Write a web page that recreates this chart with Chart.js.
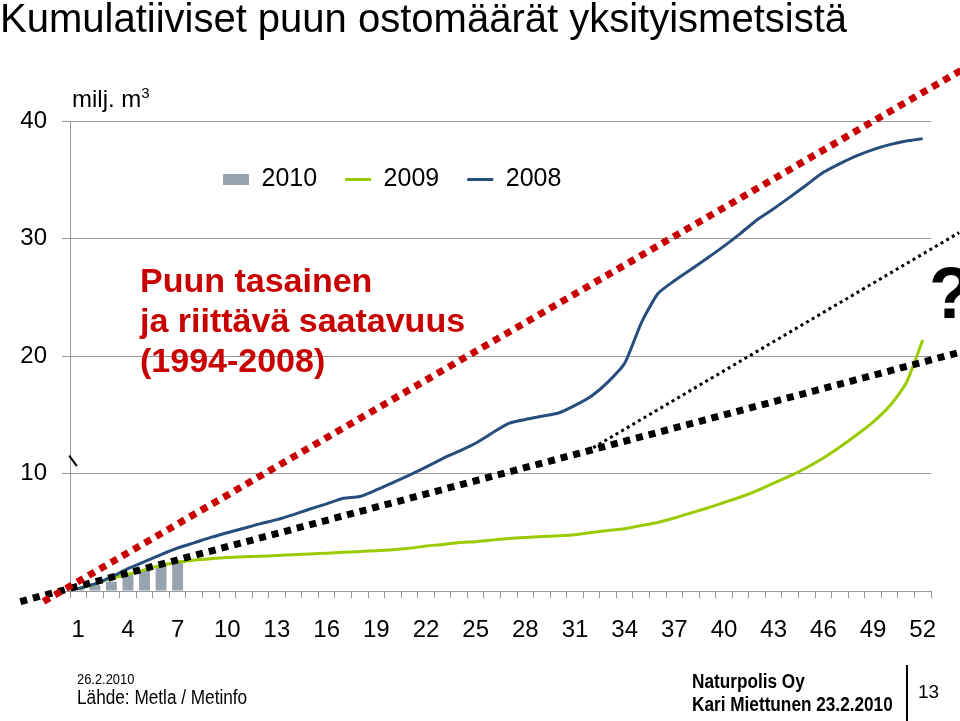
<!DOCTYPE html>
<html lang="fi">
<head>
<meta charset="utf-8">
<title>Kumulatiiviset puun ostomäärät yksityismetsistä</title>
<script src="https://cdn.jsdelivr.net/npm/chart.js@4/dist/chart.umd.min.js"></script>
<style>
  html, body { margin: 0; padding: 0; background: #fff; }
  #wrap { position: relative; width: 960px; height: 721px; overflow: hidden; font-family: "Liberation Sans", Arial, sans-serif; color: #000; }
  #wrap canvas { position: absolute; left: 0; top: 0; }
  .txt { position: absolute; white-space: nowrap; line-height: 1; }
  .narrow { font-family: "Liberation Sans Narrow", "Arial Narrow", "Liberation Sans", sans-serif; transform: scaleX(0.86); transform-origin: 0 0; }
  #title { left: 0; top: -2px; font-size: 40px; }
  #unit { left: 72px; top: 87px; font-size: 24px; }
  #unit sup { font-size: 15px; vertical-align: 9px; line-height: 0; }
  #note { left: 140px; top: 260px; font-size: 34px; font-weight: bold; color: #c80000; line-height: 40px; }
  #ask { left: 929px; top: 257px; font-size: 72px; font-weight: bold; }
  #mark { left: 70px; top: 455px; width: 13px; height: 1.5px; background: #000; transform: rotate(54deg); transform-origin: 0 0; }
  #date { left: 77px; top: 671px; font-size: 15px; }
  #source { left: 77px; top: 687px; font-size: 20px; }
  #org { left: 692px; top: 671px; font-size: 20px; font-weight: bold; }
  #author { left: 692px; top: 694px; font-size: 20px; font-weight: bold; }
  #sep { left: 906px; top: 665px; width: 1.5px; height: 56px; background: #000; }
  #page { left: 918px; top: 682px; font-size: 19px; }
</style>
</head>
<body>
<div id="wrap">
  <canvas id="buyChart" width="960" height="721"></canvas>
  <div class="txt" id="title">Kumulatiiviset puun ostomäärät yksityismetsistä</div>
  <div class="txt" id="unit">milj. m<sup>3</sup></div>
  <div class="txt" id="note">Puun tasainen<br>ja riittävä saatavuus<br>(1994-2008)</div>
  <div class="txt" id="ask">?</div>
  <div class="txt" id="mark"></div>
  <div class="txt narrow" id="date">26.2.2010</div>
  <div class="txt narrow" id="source">Lähde: Metla / Metinfo</div>
  <div class="txt narrow" id="org">Naturpolis Oy</div>
  <div class="txt narrow" id="author">Kari Miettunen 23.2.2010</div>
  <div class="txt" id="sep"></div>
  <div class="txt" id="page">13</div>
</div>
<script>
// Weeks of the year
const weeks = ['1', '2', '3', '4', '5', '6', '7', '8', '9', '10', '11', '12', '13',
  '14', '15', '16', '17', '18', '19', '20', '21', '22', '23', '24', '25', '26',
  '27', '28', '29', '30', '31', '32', '33', '34', '35', '36', '37', '38', '39',
  '40', '41', '42', '43', '44', '45', '46', '47', '48', '49', '50', '51', '52'];

// Cumulative purchases, million m3
const buy2010 = [0.3, 0.5, 0.8, 1.4, 1.8, 2.1, 2.6];
const buy2009 = [0.2, 0.6, 1.1, 1.4, 1.8, 2.2, 2.45, 2.64, 2.74, 2.85, 2.91, 2.95, 3.02,
  3.09, 3.15, 3.22, 3.29, 3.36, 3.43, 3.51, 3.63, 3.83, 3.96, 4.13, 4.2, 4.34,
  4.47, 4.55, 4.64, 4.7, 4.79, 4.98, 5.15, 5.3, 5.57, 5.83, 6.21, 6.64, 7.06,
  7.53, 8.0, 8.55, 9.19, 9.79, 10.51, 11.32, 12.26, 13.28, 14.38, 15.74, 17.7, 21.36];
const buy2008 = [0.2, 0.6, 1.2, 1.9, 2.5, 3.1, 3.66, 4.1, 4.56, 4.96, 5.34, 5.73, 6.07,
  6.5, 6.98, 7.42, 7.89, 8.04, 8.6, 9.23, 9.87, 10.55, 11.27, 11.9, 12.57, 13.45,
  14.27, 14.6, 14.87, 15.15, 15.8, 16.6, 17.8, 19.38, 22.8, 25.3, 26.4, 27.36, 28.34,
  29.35, 30.44, 31.6, 32.54, 33.54, 34.58, 35.63, 36.38, 37.04, 37.57, 37.99, 38.3, 38.5];

// Straight trend lines (week, value) end points
const evenSupplyWeeks = [-1.1, 54.3];
const evenSupplyValues = [-0.9, 44.3];
const pace2010Weeks = [-2.5, 54.2];
const pace2010Values = [-0.9, 20.3];
const forecastWeeks = [32.1, 54.2];
const forecastValues = [12.2, 30.5];

const gridColor = '#999999';

function toPoints(xs, ys) {
  return xs.map((x, i) => ({ x: x, y: ys[i] }));
}

// put the legend inside the plot, below the top gridline
const legendPlacer = {
  id: 'legendPlacer',
  afterLayout(chart) {
    const lg = chart.legend;
    lg.left = 195;
    lg.right = 960;
    lg.width = 765;
    lg.top = 139;
    lg.bottom = 223;
    lg.height = 84;
  }
};

Chart.defaults.font.family = "'Liberation Sans', Arial, sans-serif";
Chart.defaults.color = '#000';

const ctx = document.getElementById('buyChart').getContext('2d');
new Chart(ctx, {
  type: 'line',
  data: {
    labels: weeks,
    datasets: [
      {
        type: 'bar', label: '2010', data: buy2010, grouped: false,
        backgroundColor: '#97a3ae', barPercentage: 0.66, categoryPercentage: 1, order: 6
      },
      {
        label: '2009', data: buy2009, borderColor: '#99cc00', backgroundColor: '#99cc00',
        borderWidth: 3, pointRadius: 0, tension: 0.2, order: 5
      },
      {
        label: '2008', data: buy2008, borderColor: '#254e7c', backgroundColor: '#254e7c',
        borderWidth: 3, pointRadius: 0, tension: 0.2, order: 4
      },
      {
        label: 'tasainen', data: toPoints(evenSupplyWeeks, evenSupplyValues), xAxisID: 'xt',
        borderColor: '#c80000', borderWidth: 7, borderDash: [7, 6], borderCapStyle: 'butt',
        pointRadius: 0, clip: false, order: 1
      },
      {
        label: 'vauhti 2010', data: toPoints(pace2010Weeks, pace2010Values), xAxisID: 'xt',
        borderColor: '#000', borderWidth: 7, borderDash: [7, 6], borderCapStyle: 'butt',
        pointRadius: 0, clip: false, order: 2
      },
      {
        label: 'ennuste', data: toPoints(forecastWeeks, forecastValues), xAxisID: 'xt',
        borderColor: '#000', borderWidth: 3, borderDash: [3, 3.5], borderCapStyle: 'butt',
        pointRadius: 0, clip: false, order: 3
      }
    ]
  },
  options: {
    responsive: false,
    animation: false,
    devicePixelRatio: 1,
    layout: { padding: { top: 120, left: 0, right: 29, bottom: 0 } },
    plugins: {
      title: { display: false },
      tooltip: { enabled: false },
      legend: {
        position: 'top',
        align: 'start',
        maxHeight: 1,
        labels: {
          usePointStyle: true,
          pointStyleWidth: 26,
          boxHeight: 11,
          padding: 28,
          font: { size: 25 },
          color: '#000',
          filter: item => item.datasetIndex < 3,
          sort: (a, b) => a.datasetIndex - b.datasetIndex,
          generateLabels(chart) {
            const items = Chart.defaults.plugins.legend.labels.generateLabels(chart);
            items.forEach(it => {
              const ds = chart.data.datasets[it.datasetIndex];
              if (ds.type === 'bar') {
                it.pointStyle = 'rect';
                it.lineWidth = 0;
              } else {
                it.pointStyle = 'line';
                it.lineWidth = 3;
                it.strokeStyle = ds.borderColor;
                it.lineDash = [];
              }
            });
            return items;
          }
        }
      }
    },
    scales: {
      x: {
        type: 'category',
        offset: true,
        grid: { offset: true, drawOnChartArea: false, drawTicks: true, tickLength: 7, color: gridColor },
        border: { display: true, color: gridColor },
        ticks: {
          autoSkip: false, maxRotation: 0, padding: 18, font: { size: 24 }, color: '#000',
          callback: function (v, i) { return i % 3 === 0 ? this.getLabelForValue(v) : ''; }
        },
        afterFit(scale) { scale.height = 130; }
      },
      xt: { type: 'linear', display: false, min: 0.5, max: 52.5 },
      y: {
        min: 0, max: 40,
        grid: { color: gridColor, tickLength: 8 },
        border: { color: gridColor },
        ticks: {
          stepSize: 10, padding: 15, font: { size: 24 }, color: '#000',
          callback: v => (v === 0 ? '' : v)
        },
        afterFit(scale) { scale.width = 70; }
      }
    }
  },
  plugins: [legendPlacer]
});
</script>
</body>
</html>
